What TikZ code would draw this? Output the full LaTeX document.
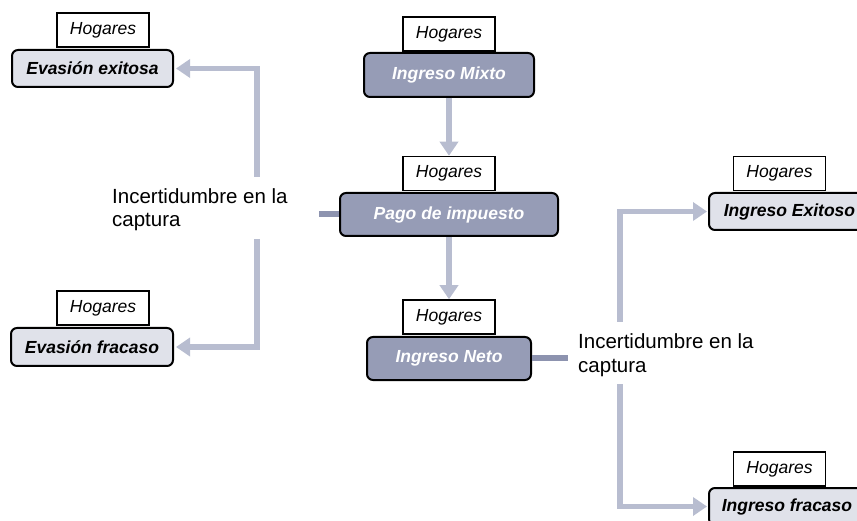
\documentclass[tikz,border=0pt]{standalone}
\usepackage{fontspec}
\setmainfont{Liberation Sans}
\usetikzlibrary{arrows.meta}

\definecolor{boxdark}{RGB}{150,156,182}
\definecolor{boxlight}{RGB}{224,226,234}
\definecolor{flow}{RGB}{184,189,208}
\definecolor{stubc}{RGB}{141,147,175}

\begin{document}
\begin{tikzpicture}[x=1pt,y=-1pt,
  tag/.style={draw=black, line width=1.5pt, fill=white, minimum width=92pt,
    minimum height=34pt, inner sep=0pt,
    font=\fontsize{17.5}{20}\selectfont\itshape},
  stage/.style={draw=black, line width=2pt, rounded corners=6pt, inner sep=0pt,
    font=\fontsize{17.5}{20}\selectfont\bfseries\itshape},
  darkstage/.style={stage, fill=boxdark, text=white},
  lightstage/.style={stage, fill=boxlight},
  note/.style={align=left, inner sep=0pt,
    font=\fontsize{20.5}{23.5}\selectfont},
  flowline/.style={draw=flow, line width=5.5pt,
    -{Triangle[length=14pt,width=18pt]}},
  stubline/.style={draw=stubc, line width=6pt}]

\useasboundingbox (0,0) rectangle (857,521);
\clip (0,0) rectangle (857,521);

% central chain
\node[tag] (hC1) at (449,34) {Hogares};
\node[darkstage, minimum width=170pt, minimum height=44pt] (mixto) at (449,75) {Ingreso Mixto};
\node[tag] (hC2) at (449,173.5) {Hogares};
\node[darkstage, minimum width=218pt, minimum height=43pt] (pago) at (449,214.5) {Pago de impuesto};
\node[tag] (hC3) at (449,317) {Hogares};
\node[darkstage, minimum width=164pt, minimum height=43pt] (neto) at (449,358.5) {Ingreso Neto};

% left branch
\node[tag] (hL1) at (103,30) {Hogares};
\node[lightstage, minimum width=161pt, minimum height=37pt] (evEx) at (92.5,68.5) {Evasión exitosa};
\node[tag] (hL2) at (103,308) {Hogares};
\node[lightstage, minimum width=162pt, minimum height=38pt] (evFr) at (92,347) {Evasión fracaso};
% base anchor of a two-line note sits on its last line
\node[note, anchor=base west] (incL) at (112,226.7) {Incertidumbre en la\\captura};

% right branch
\node[tag] (hR1) at (779.5,173.5) {Hogares};
\node[lightstage, minimum width=161pt, minimum height=37pt] (inEx) at (789.5,211.5) {Ingreso Exitoso};
\node[tag] (hR2) at (779.5,469) {Hogares};
\node[lightstage, minimum width=156pt, minimum height=37pt] (inFr) at (787,506.5) {Ingreso fracaso};
\node[note, anchor=base west] (incR) at (578,372) {Incertidumbre en la\\captura};

% connectors
\draw[flowline] (mixto.south) -- (hC2.north);
\draw[flowline] (pago.south) -- (hC3.north);

\draw[stubline] (pago.west) -- ++(-20,0) coordinate (stubL);
\draw[stubline] (neto.east) -- ++(36,0) coordinate (stubR);

\coordinate (lt) at (257,177);
\coordinate (lb) at (257,239);
\draw[flowline] (lt) |- ([xshift=2pt]evEx.east);
\draw[flowline] (lb) |- ([xshift=2pt]evFr.east);

\coordinate (rt) at (620,322);
\coordinate (rb) at (620,384);
\draw[flowline] (rt) |- ([xshift=-1pt]inEx.west);
\draw[flowline] (rb) |- ([xshift=-1pt]inFr.west);

\end{tikzpicture}
\end{document}
